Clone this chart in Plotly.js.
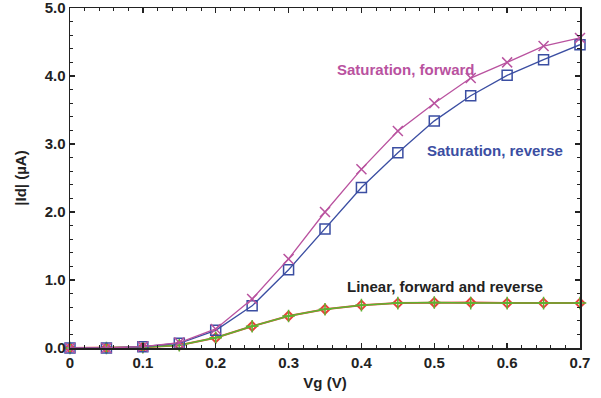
<!DOCTYPE html>
<html><head><meta charset="utf-8">
<script src="https://cdn.plot.ly/plotly-3.0.1.min.js"></script>
<style>html,body{margin:0;padding:0;background:#fff}#c{width:601px;height:398px}</style>
</head><body><div id="c"></div>
<script>
const vg = [0,0.05,0.1,0.15,0.2,0.25,0.3,0.35,0.4,0.45,0.5,0.55,0.6,0.65,0.7];
const satForward = [0,0,0.02,0.08,0.28,0.72,1.31,2.0,2.63,3.19,3.6,3.97,4.2,4.44,4.56];
const satReverse = [0,0,0.02,0.07,0.26,0.62,1.15,1.75,2.36,2.87,3.34,3.71,4.01,4.24,4.46];
const linForward = [0,0,0.01,0.04,0.15,0.32,0.47,0.57,0.63,0.66,0.67,0.67,0.66,0.66,0.66];
const linReverse = [0,0,0.01,0.04,0.15,0.32,0.47,0.57,0.63,0.66,0.67,0.66,0.66,0.66,0.66];
const labels = ["Saturation, forward","Saturation, reverse","Linear, forward and reverse"];

const traces = [
 {x:vg,y:linForward,mode:'lines+markers',cliponaxis:false,line:{color:'#e8403a',width:2},marker:{symbol:'diamond-open',size:7,color:'#e8403a',line:{width:2,color:'#e8403a'}}},
 {x:vg,y:linReverse,mode:'lines+markers',cliponaxis:false,line:{color:'#5cb531',width:1.5},marker:{symbol:'cross-thin-open',size:9,color:'#5cb531',line:{width:1.5,color:'#5cb531'}}},
 {x:vg,y:satReverse,mode:'lines+markers',cliponaxis:false,line:{color:'#3b4ea2',width:1.3},marker:{symbol:'square-open',size:10,color:'#3b4ea2',line:{width:1.5,color:'#3b4ea2'}}},
 {x:vg,y:satForward,mode:'lines+markers',cliponaxis:false,line:{color:'#b9529f',width:1.3},marker:{symbol:'x-thin-open',size:10,color:'#b9529f',line:{width:1.5,color:'#b9529f'}}}
];
const FAM = 'Liberation Sans, Arial, sans-serif';
const axFont = {family:FAM,size:15,color:'#222',weight:'bold'};
const layout = {
 width:601,height:398,margin:{l:70,r:21,t:8,b:50},
 paper_bgcolor:'#fff',plot_bgcolor:'#fff',showlegend:false,
 font:{family:FAM,color:'#222'},
 xaxis:{range:[0,0.7],dtick:0.1,tick0:0,showgrid:false,zeroline:false,showline:true,linecolor:'#222',linewidth:1.5,mirror:'ticks',ticks:'inside',ticklen:5,tickcolor:'#222',tickwidth:1.5,tickfont:axFont,ticklabeloverflow:'allow',
   minor:{dtick:0.02,ticks:'inside',ticklen:3,tickcolor:'#222',tickwidth:1},
   title:{text:'Vg (V)',font:{family:FAM,size:15,color:'#222',weight:'bold'},standoff:8}},
 yaxis:{range:[0,5],dtick:1,tick0:0,tickformat:'.1f',showgrid:false,zeroline:false,showline:true,linecolor:'#222',linewidth:1.5,mirror:'ticks',ticks:'inside',ticklen:5,tickcolor:'#222',tickwidth:1.5,tickfont:axFont,ticklabeloverflow:'allow',
   minor:{dtick:0.2,ticks:'inside',ticklen:3,tickcolor:'#222',tickwidth:1},
   title:{text:'|Id| (µA)',font:{family:FAM,size:15,color:'#222',weight:'bold'},standoff:14}},
 annotations:[
  {x:0.3635,y:4.10,xref:'x',yref:'y',text:labels[0],showarrow:false,xanchor:'left',font:{size:15,color:'#b9529f',weight:'bold'}},
  {x:0.487,y:2.90,xref:'x',yref:'y',text:labels[1],showarrow:false,xanchor:'left',font:{size:15,color:'#3b4ea2',weight:'bold'}},
  {x:0.377,y:0.90,xref:'x',yref:'y',text:labels[2],showarrow:false,xanchor:'left',font:{size:15,color:'#222',weight:'bold'}}
 ]
};
Plotly.newPlot('c',traces,layout,{displayModeBar:false,staticPlot:true});
</script></body></html>
